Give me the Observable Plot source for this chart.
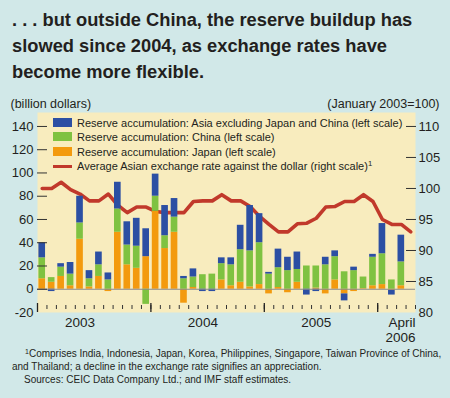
<!DOCTYPE html>
<html>
<head>
<meta charset="utf-8">
<script src="https://cdn.jsdelivr.net/npm/d3@7"></script>
<script src="https://cdn.jsdelivr.net/npm/@observablehq/plot@0.6"></script>
<style>
  html, body { margin: 0; padding: 0; }
  #wrap { position: relative; width: 450px; height: 398px; background: #d1e8e8; overflow: hidden;
          font-family: "Liberation Sans", Arial, sans-serif; color: #231f20; }
  #title { position: absolute; left: 12px; top: 7px; font-weight: bold; font-size: 18.3px; line-height: 26px; white-space: nowrap; }
  #chart { position: absolute; left: 0; top: 90px; }
  #legend { position: absolute; left: 53px; top: 116px; font-size: 11px; }
  #legend .row { position: relative; height: 14.3px; line-height: 14.3px; white-space: nowrap; }
  #legend .sw { position: absolute; left: 0; top: 2px; width: 19px; height: 9px; }
  #legend .ln { position: absolute; left: 0; top: 6.5px; width: 19px; height: 3px; }
  #legend .tx { position: absolute; left: 24px; top: 0; }
  #legend sup, #notes sup { font-size: 0.7em; line-height: 0; vertical-align: 0.5em; }
  #notes { position: absolute; left: 12px; top: 347px; font-size: 10px; line-height: 13px; white-space: nowrap; }
</style>
</head>
<body>
<div id="wrap">
  <div id="title">. . . but outside China, the reserve buildup has<br>slowed since 2004, as exchange rates have<br>become more flexible.</div>
  <div id="chart"></div>
  <div id="legend"></div>
  <div id="notes">
    <div style="padding-left:13px"><sup>1</sup>Comprises India, Indonesia, Japan, Korea, Philippines, Singapore, Taiwan Province of China,</div>
    <div>and Thailand; a decline in the exchange rate signifies an appreciation.</div>
    <div style="padding-left:12px">Sources: CEIC Data Company Ltd.; and IMF staff estimates.</div>
  </div>
</div>
<script>
// ---- data (monthly, January 2003 – April 2006) ----
const monthLabels = [];
for (let y = 2003; y <= 2006; y++) for (let m = 1; m <= 12; m++) if (y < 2006 || m <= 4) monthLabels.push(`${y}-${String(m).padStart(2, "0")}`);

const seriesNames = [
  "Reserve accumulation: Japan (left scale)",
  "Reserve accumulation: China (left scale)",
  "Reserve accumulation: Asia excluding Japan and China (left scale)"
];
const seriesColors = ["#f39a0e", "#7fc241", "#2c4fa3"];

// billion dollars, Jan 2003 – Mar 2006
const japan = [9, 6, 11, 3, 43, 2, 11, -2, 49, 21, 18, 28, 67, 35, 49, -12, 1.5, 0, 0, 8, 3, 6, 2, 4, -4, 1.5, -3, 6, 0, 1, -4, 8, -4, -2, 0.5, 3, 4, -1, 3];
const china = [18, 4, 8, 10, 14, 7, 10, 8, 20, 17, 19, -13, 13, 11, 13, 9, 9, 12.5, 13, 14, 18, 28, 31, 36, 13, 17, 16, 11, 20, 19, 21, 20, 15, 16, 10, 24.5, 26.5, 8, 20.5];
const asia  = [13, -2, 3, 10, 23, 7, 11, 6, 23, 20, 24, 24, 19, 26, 16, 2, 7, -2, -2, 5, 6, 21, 39, 25, 1.5, 16, 11.5, 15, -5, -2, 6.5, 5, -6, 3, 0, 2.5, 26, -4, 23];

// Average Asian exchange rate against the dollar (January 2003 = 100), Jan 2003 – Apr 2006
const rate = [100, 100, 101, 99.8, 99.1, 98, 98, 99.1, 97.3, 96.1, 97, 97, 96.3, 96.1, 96.1, 96.1, 97.9, 98, 98, 99, 98, 98, 97.1, 95.5, 94.2, 93, 93, 94.3, 94.4, 95.2, 97, 97.1, 97.9, 97.9, 99, 97.9, 95, 94.2, 94.2, 93];

const leftTicks = [-20, 0, 20, 40, 60, 80, 100, 120, 140];
const rightTicks = [80, 85, 90, 95, 100, 105, 110];
const yearLabels = ["2003", "2004", "2005"];
const yearLabelPos = [4.5, 17.5, 29.5];
const lastLabel = "April\n2006";
const yearStarts = [0, 12, 24, 36];

// dual-axis mapping: left [-20, 140] <-> right [80, 110]
const toLeft = r => (r - 80) * (160 / 30) - 20;
const fromLeft = l => 80 + (l + 20) * (30 / 160);

// ---- tables ----
const rows = [];
[japan, china, asia].forEach((arr, s) => arr.forEach((v, i) => rows.push({m0: i, m1: i + 1, series: seriesNames[s], value: v})));
const rateRows = rate.map((v, i) => ({m: i + 0.5, v: toLeft(v)}));
const monthEdges = d3.range(0, monthLabels.length + 1);
const yearMap = new Map(yearLabelPos.map((p, i) => [p, yearLabels[i]]));

const ink = "#231f20";
const chart = Plot.plot({
  width: 450,
  height: 258,
  marginTop: 22,
  marginBottom: 36,
  marginLeft: 37,
  marginRight: 35,
  style: {fontFamily: '"Liberation Sans", Arial, sans-serif', fontSize: "13px", background: "transparent", color: ink, overflow: "visible"},
  x: {type: "linear", domain: [0, monthLabels.length]},
  y: {domain: [-20, 152]},
  color: {domain: seriesNames, range: seriesColors},
  marks: [
    Plot.frame({fill: "#f8ecbe", stroke: null}),
    Plot.line(rateRows, {x: "m", y: "v", stroke: "#c1392b", strokeWidth: 3.6, strokeLinejoin: "round"}),
    Plot.rectY(rows, {x1: "m0", x2: "m1", y: "value", fill: "series", insetLeft: 1.4, insetRight: 1.4}),
    Plot.ruleY([0], {stroke: "#8a8a8a", strokeWidth: 1.2}),
    // left axis
    Plot.axisY(leftTicks.filter(d => d > -20), {anchor: "left", tickSize: 10, dx: 10, tickFormat: () => "", stroke: "#333", label: null}),
    Plot.axisY(leftTicks, {anchor: "left", tickSize: 0, tickPadding: 4, tickFormat: d => String(d), fontSize: 13, fill: ink, label: null}),
    // right axis
    Plot.axisY(rightTicks.filter(d => d > 80).map(toLeft), {anchor: "right", tickSize: 10, dx: -10, tickFormat: () => "", stroke: "#333", label: null}),
    Plot.axisY(rightTicks.map(toLeft), {anchor: "right", tickSize: 0, tickPadding: 3, tickFormat: d => String(Math.round(fromLeft(d))), fontSize: 13, fill: ink, label: null}),
    // bottom ticks
    Plot.axisX(monthEdges, {anchor: "bottom", tickSize: 4, dy: -7, tickFormat: () => "", stroke: "#333", label: null}),
    Plot.axisX(yearStarts, {anchor: "bottom", tickSize: 9, dy: -9, tickFormat: () => "", stroke: "#222", strokeWidth: 1.3, label: null}),
    Plot.axisX(yearLabelPos, {anchor: "bottom", tickSize: 0, tickPadding: 5, tickFormat: d => yearMap.get(d), fontSize: 13.5, fill: ink, label: null}),
    Plot.axisX([monthLabels.length], {anchor: "bottom", tickSize: 0, tickPadding: 5, tickFormat: () => lastLabel, textAnchor: "end", fontSize: 13.5, lineHeight: 1.04, fill: ink, label: null}),
    // unit labels
    Plot.text(["(billion dollars)"], {frameAnchor: "top-left", dx: -27, dy: -5, lineAnchor: "bottom", textAnchor: "start", fontSize: 12.5, fill: ink}),
    Plot.text(["(January 2003=100)"], {frameAnchor: "top-right", dx: 24, dy: -5, lineAnchor: "bottom", textAnchor: "end", fontSize: 12.5, fill: ink})
  ]
});
document.getElementById("chart").appendChild(chart);

// legend (order as in reference)
const legendItems = [
  {label: seriesNames[2], color: seriesColors[2], kind: "sw"},
  {label: seriesNames[1], color: seriesColors[1], kind: "sw"},
  {label: seriesNames[0], color: seriesColors[0], kind: "sw"},
  {label: "Average Asian exchange rate against the dollar (right scale)<sup>1</sup>", color: "#c1392b", kind: "ln"}
];
const legend = document.getElementById("legend");
for (const it of legendItems) {
  const row = document.createElement("div");
  row.className = "row";
  row.innerHTML = `<span class="${it.kind}" style="background:${it.color}"></span><span class="tx">${it.label}</span>`;
  legend.appendChild(row);
}
</script>
</body>
</html>
